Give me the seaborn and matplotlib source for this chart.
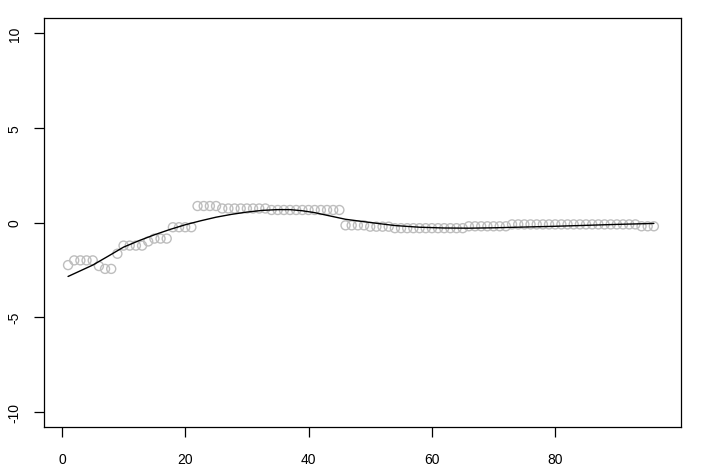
import matplotlib
matplotlib.use("Agg")
import matplotlib.pyplot as plt
import seaborn as sns
import pandas as pd

# observed points (index 1..96)
point_x = list(range(1, 97))
point_y = ([-2.25] + [-2.0] * 4 + [-2.3] + [-2.45] * 2 + [-1.65] + [-1.22] * 4 + [-1.0]
           + [-0.85] * 3 + [-0.25] * 4 + [0.87] * 4 + [0.74] * 8 + [0.66] * 12
           + [-0.15] * 4 + [-0.22] * 4 + [-0.3] * 12 + [-0.2] * 7 + [-0.1] * 21 + [-0.2] * 3)

# smooth curve
curve_x = [1, 3, 5, 7.5, 10, 12.5, 15, 17.5, 20, 22.5, 25, 27.5, 30, 32.5, 35, 37, 39,
           41, 43, 46, 50, 54, 58, 62, 66, 70, 75, 80, 85, 90, 96]
curve_y = [-2.85, -2.55, -2.25, -1.78, -1.3, -0.96, -0.65, -0.37, -0.12, 0.09, 0.28,
           0.43, 0.55, 0.64, 0.68, 0.68, 0.62, 0.52, 0.38, 0.17, 0.0, -0.16, -0.25,
           -0.29, -0.3, -0.28, -0.24, -0.2, -0.15, -0.1, -0.05]

x_ticks = [0, 20, 40, 60, 80]
y_ticks = [-10, -5, 0, 5, 10]

sns.set_style("white")
plt.rcParams["font.family"] = ["Liberation Sans", "DejaVu Sans"]

pts = pd.DataFrame({"x": point_x, "y": point_y})
crv = pd.DataFrame({"x": curve_x, "y": curve_y})

fig = plt.figure(figsize=(7.04, 4.77), dpi=100)
ax = fig.add_axes([44 / 704, 1 - 428 / 477, (681 - 44) / 704, (428 - 19) / 477])

sns.scatterplot(data=pts, x="x", y="y", ax=ax, marker="o", s=42,
                facecolors="none", edgecolor="#BEBEBE", linewidth=1.0, zorder=2)
sns.lineplot(data=crv, x="x", y="y", ax=ax, color="black", linewidth=1.0, zorder=3)

ax.set_xlim(-2.9, 100.4)
ax.set_ylim(-10.8, 10.8)
ax.set_xticks(x_ticks)
ax.set_yticks(y_ticks)
ax.set_xticklabels([str(v) for v in x_ticks])
ax.set_yticklabels([str(v) for v in y_ticks], rotation=90, va="center")
ax.set_xlabel("")
ax.set_ylabel("")
for s in ax.spines.values():
    s.set_visible(True)
    s.set_color("black")
    s.set_linewidth(0.9)
ax.tick_params(axis="both", direction="out", length=7, width=0.9, color="black",
               labelsize=10, labelcolor="black", pad=11, left=True, bottom=True)
ax.tick_params(axis="y", pad=9)

fig.savefig("out.png", dpi=100)
